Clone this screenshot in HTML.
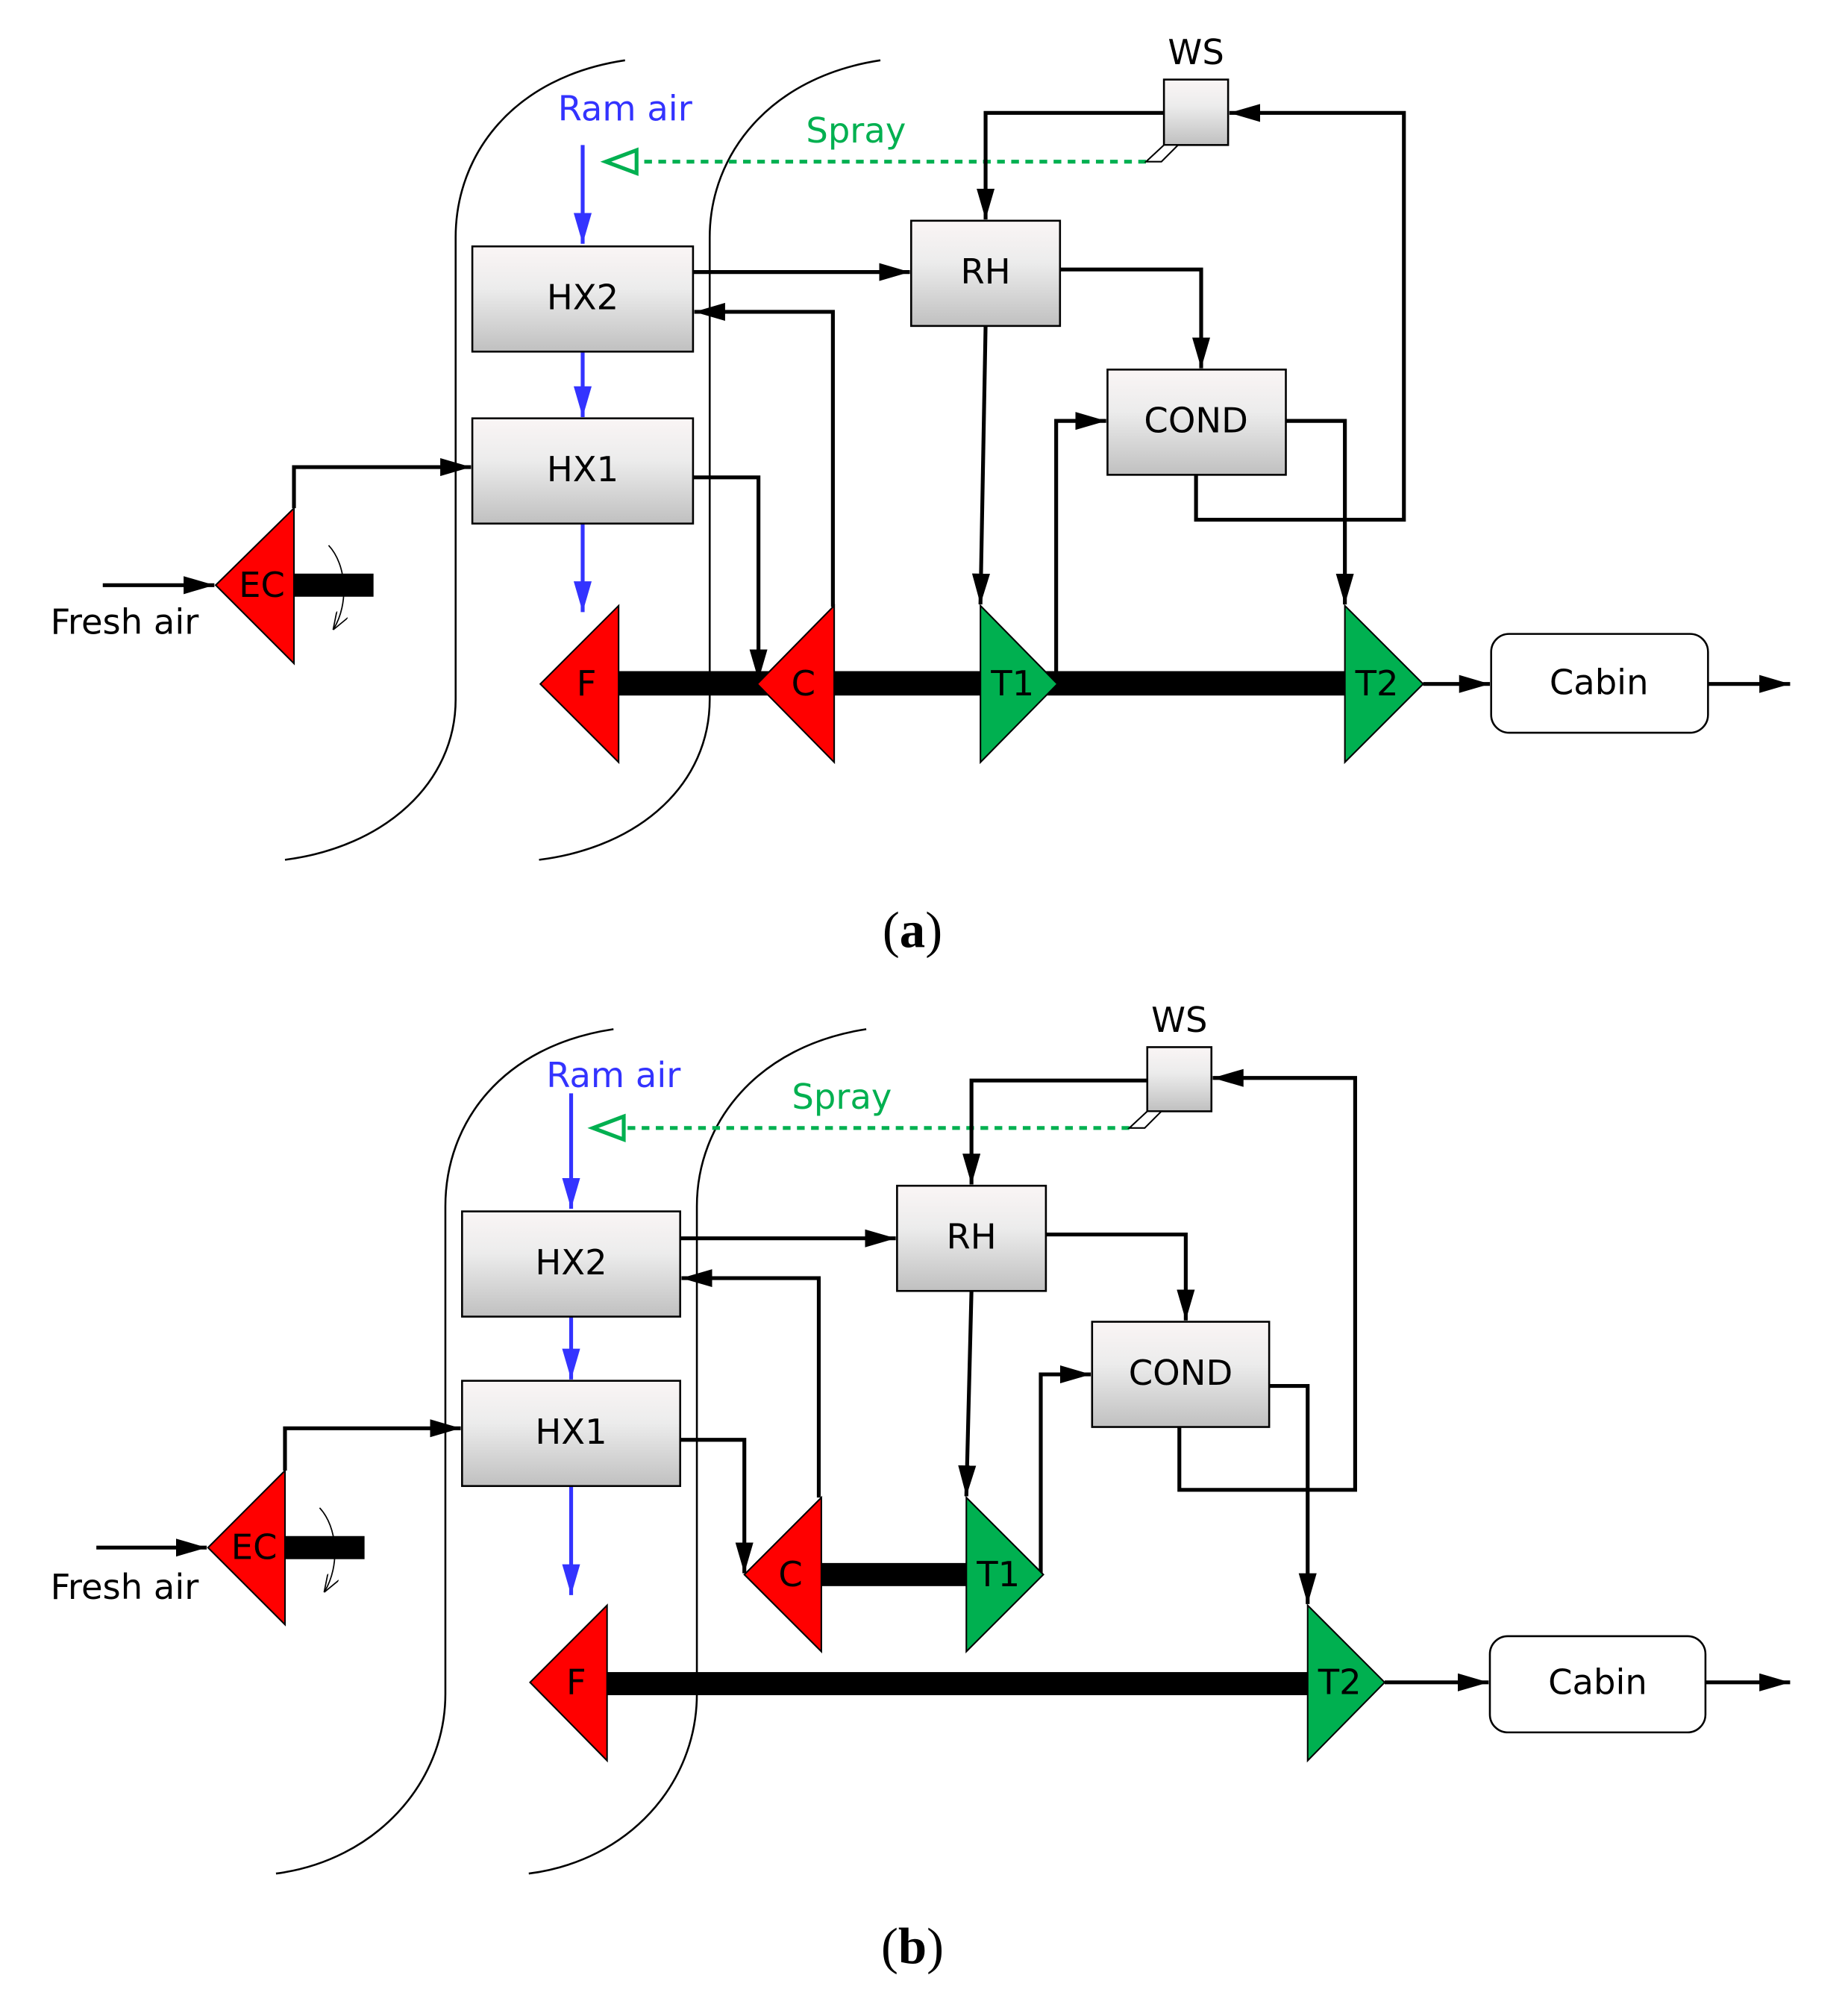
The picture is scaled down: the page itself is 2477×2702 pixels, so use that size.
<!DOCTYPE html>
<html><head><meta charset="utf-8"><style>html,body{margin:0;padding:0;background:#fff}svg{display:block}</style></head>
<body>
<svg xmlns="http://www.w3.org/2000/svg" width="2477" height="2702" viewBox="0 0 1440 1571">
<defs>
<linearGradient id="g" x1="0" y1="0" x2="0" y2="1"><stop offset="0" stop-color="#faf5f5"/><stop offset="0.4" stop-color="#ececec"/><stop offset="1" stop-color="#c0c0c0"/></linearGradient>
<marker id="a" markerUnits="userSpaceOnUse" markerWidth="24" markerHeight="14" refX="24" refY="7" orient="auto"><path d="M0,0 L24,7 L0,14 Z" fill="#000"/></marker>
<marker id="b" markerUnits="userSpaceOnUse" markerWidth="24" markerHeight="14" refX="24" refY="7" orient="auto"><path d="M0,0 L24,7 L0,14 Z" fill="#3333ff"/></marker>
<marker id="s" markerUnits="userSpaceOnUse" markerWidth="14" markerHeight="10" refX="13" refY="5" orient="auto"><path d="M0,0 L14,5 L0,10" fill="none" stroke="#000" stroke-width="1"/></marker>
</defs>
<g font-family="'DejaVu Sans','Liberation Sans',sans-serif" font-size="27" text-anchor="middle">

<!-- ===== (a) ===== -->
<g fill="none" stroke="#000" stroke-width="1.5">
<path d="M487,47 C400,60 355,120 355,185 L355,545 C355,610 300,660 222,670"/>
<path d="M686,47 C600,60 553,120 553,185 L553,545 C553,610 500,660 420,670"/>
</g>
<text x="487" y="94" fill="#3333ff">Ram air</text>
<line x1="454" y1="113" x2="454" y2="190" stroke="#3333ff" stroke-width="3" marker-end="url(#b)"/>
<line x1="454" y1="274" x2="454" y2="325" stroke="#3333ff" stroke-width="3" marker-end="url(#b)"/>
<line x1="454" y1="408" x2="454" y2="477" stroke="#3333ff" stroke-width="3" marker-end="url(#b)"/>
<text x="667" y="111" fill="#00b050">Spray</text>
<line x1="893" y1="126" x2="496" y2="126" stroke="#00b050" stroke-width="3" stroke-dasharray="6,5"/>
<path d="M496,117 L472,126 L496,135 Z" fill="#fff" stroke="#00b050" stroke-width="3"/>
<text x="932" y="50">WS</text>
<rect x="907" y="62" width="50" height="51" fill="url(#g)" stroke="#000" stroke-width="1.5"/>
<path d="M907,113 L918,113 L905,126 L893,126 Z" fill="#fff" stroke="#000" stroke-width="1.2"/>

<g fill="none" stroke="#000" stroke-width="3">
<polyline points="907,88 768,88 768,171" marker-end="url(#a)"/>
<polyline points="932,370 932,405 1094,405 1094,88 958,88" marker-end="url(#a)"/>
<line x1="540" y1="212" x2="709" y2="212" marker-end="url(#a)"/>
<polyline points="649,473 649,243 541,243" marker-end="url(#a)"/>
<polyline points="540,372 591,372 591,530" marker-end="url(#a)"/>
<polyline points="826,210 936,210 936,287" marker-end="url(#a)"/>
<line x1="768" y1="254" x2="764" y2="471" marker-end="url(#a)"/>
<polyline points="823,530 823,328 862,328" marker-end="url(#a)"/>
<polyline points="1002,328 1048,328 1048,471" marker-end="url(#a)"/>
<line x1="80" y1="456" x2="167" y2="456" marker-end="url(#a)"/>
<polyline points="229,396 229,364 367,364" marker-end="url(#a)"/>
<line x1="1109" y1="533" x2="1161" y2="533" marker-end="url(#a)"/>
<line x1="1331" y1="533" x2="1395" y2="533" marker-end="url(#a)"/>
</g>
<rect x="368" y="192" width="172" height="82" fill="url(#g)" stroke="#000" stroke-width="1.5"/>
<text x="454" y="241">HX2</text>
<rect x="368" y="326" width="172" height="82" fill="url(#g)" stroke="#000" stroke-width="1.5"/>
<text x="454" y="375">HX1</text>
<rect x="710" y="172" width="116" height="82" fill="url(#g)" stroke="#000" stroke-width="1.5"/>
<text x="768" y="221">RH</text>
<rect x="863" y="288" width="139" height="82" fill="url(#g)" stroke="#000" stroke-width="1.5"/>
<text x="932" y="337">COND</text>
<rect x="1162" y="494" width="169" height="77" rx="14" fill="#fff" stroke="#000" stroke-width="1.5"/>
<text x="1246" y="541">Cabin</text>
<rect x="229" y="447" width="62" height="18" fill="#000"/>
<path d="M168,456 L229,396 L229,517 Z" fill="#ff0000" stroke="#000" stroke-width="1.2"/>
<text x="204" y="465">EC</text>
<path d="M256,425 C270,440 272,470 260,490" fill="none" stroke="#000" stroke-width="1" marker-end="url(#s)"/>
<text x="97" y="494">Fresh air</text>
<rect x="482" y="523" width="566" height="19" fill="#000"/>
<path d="M421,533 L482,472 L482,594 Z" fill="#ff0000" stroke="#000" stroke-width="1.2"/>
<text x="457" y="542">F</text>
<path d="M590,533 L650,472 L650,594 Z" fill="#ff0000" stroke="#000" stroke-width="1.2"/>
<text x="626" y="542">C</text>
<path d="M764,472 L764,594 L824,533 Z" fill="#00b050" stroke="#000" stroke-width="1.2"/>
<text x="789" y="542">T1</text>
<path d="M1048,472 L1048,594 L1109,533 Z" fill="#00b050" stroke="#000" stroke-width="1.2"/>
<text x="1073" y="542">T2</text>
<text x="711" y="738" font-family="'Liberation Serif',serif" font-size="40">(<tspan font-weight="bold">a</tspan>)</text>

<!-- ===== (b) ===== -->
<g fill="none" stroke="#000" stroke-width="1.5">
<path d="M478,802 C391,815 347,875 347,940 L347,1320 C347,1390 292,1450 215,1460"/>
<path d="M675,802 C590,815 543,875 543,940 L543,1320 C543,1390 490,1450 412,1460"/>
</g>
<text x="478" y="847" fill="#3333ff">Ram air</text>
<line x1="445" y1="852" x2="445" y2="942" stroke="#3333ff" stroke-width="3" marker-end="url(#b)"/>
<line x1="445" y1="1026" x2="445" y2="1075" stroke="#3333ff" stroke-width="3" marker-end="url(#b)"/>
<line x1="445" y1="1158" x2="445" y2="1243" stroke="#3333ff" stroke-width="3" marker-end="url(#b)"/>
<text x="656" y="864" fill="#00b050">Spray</text>
<line x1="880" y1="879" x2="486" y2="879" stroke="#00b050" stroke-width="3" stroke-dasharray="6,5"/>
<path d="M486,870 L462,879 L486,888 Z" fill="#fff" stroke="#00b050" stroke-width="3"/>
<text x="919" y="804">WS</text>
<rect x="894" y="816" width="50" height="50" fill="url(#g)" stroke="#000" stroke-width="1.5"/>
<path d="M894,866 L905,866 L892,879 L880,879 Z" fill="#fff" stroke="#000" stroke-width="1.2"/>

<g fill="none" stroke="#000" stroke-width="3">
<polyline points="894,842 757,842 757,923" marker-end="url(#a)"/>
<polyline points="919,1112 919,1161 1056,1161 1056,840 945,840" marker-end="url(#a)"/>
<line x1="530" y1="965" x2="698" y2="965" marker-end="url(#a)"/>
<polyline points="638,1167 638,996 531,996" marker-end="url(#a)"/>
<polyline points="530,1122 580,1122 580,1226" marker-end="url(#a)"/>
<polyline points="815,962 924,962 924,1029" marker-end="url(#a)"/>
<line x1="757" y1="1006" x2="753" y2="1166" marker-end="url(#a)"/>
<polyline points="811,1226 811,1071 850,1071" marker-end="url(#a)"/>
<polyline points="989,1080 1019,1080 1019,1250" marker-end="url(#a)"/>
<line x1="75" y1="1206" x2="161" y2="1206" marker-end="url(#a)"/>
<polyline points="222,1146 222,1113 359,1113" marker-end="url(#a)"/>
<line x1="1079" y1="1311" x2="1160" y2="1311" marker-end="url(#a)"/>
<line x1="1329" y1="1311" x2="1395" y2="1311" marker-end="url(#a)"/>
</g>
<rect x="360" y="944" width="170" height="82" fill="url(#g)" stroke="#000" stroke-width="1.5"/>
<text x="445" y="993">HX2</text>
<rect x="360" y="1076" width="170" height="82" fill="url(#g)" stroke="#000" stroke-width="1.5"/>
<text x="445" y="1125">HX1</text>
<rect x="699" y="924" width="116" height="82" fill="url(#g)" stroke="#000" stroke-width="1.5"/>
<text x="757" y="973">RH</text>
<rect x="851" y="1030" width="138" height="82" fill="url(#g)" stroke="#000" stroke-width="1.5"/>
<text x="920" y="1079">COND</text>
<rect x="1161" y="1275" width="168" height="75" rx="14" fill="#fff" stroke="#000" stroke-width="1.5"/>
<text x="1245" y="1320">Cabin</text>
<rect x="222" y="1197" width="62" height="18" fill="#000"/>
<path d="M162,1206 L222,1146 L222,1266 Z" fill="#ff0000" stroke="#000" stroke-width="1.2"/>
<text x="198" y="1215">EC</text>
<path d="M249,1175 C263,1190 265,1220 253,1240" fill="none" stroke="#000" stroke-width="1" marker-end="url(#s)"/>
<text x="97" y="1246">Fresh air</text>
<rect x="640" y="1218" width="113" height="18" fill="#000"/>
<path d="M580,1227 L640,1167 L640,1287 Z" fill="#ff0000" stroke="#000" stroke-width="1.2"/>
<text x="616" y="1236">C</text>
<path d="M753,1167 L753,1287 L813,1227 Z" fill="#00b050" stroke="#000" stroke-width="1.2"/>
<text x="778" y="1236">T1</text>
<rect x="473" y="1303" width="546" height="18" fill="#000"/>
<path d="M413,1311 L473,1251 L473,1372 Z" fill="#ff0000" stroke="#000" stroke-width="1.2"/>
<text x="449" y="1320">F</text>
<path d="M1019,1251 L1019,1372 L1079,1311 Z" fill="#00b050" stroke="#000" stroke-width="1.2"/>
<text x="1044" y="1320">T2</text>
<text x="711" y="1530" font-family="'Liberation Serif',serif" font-size="40">(<tspan font-weight="bold">b</tspan>)</text>
</g>
</svg>
</body></html>
